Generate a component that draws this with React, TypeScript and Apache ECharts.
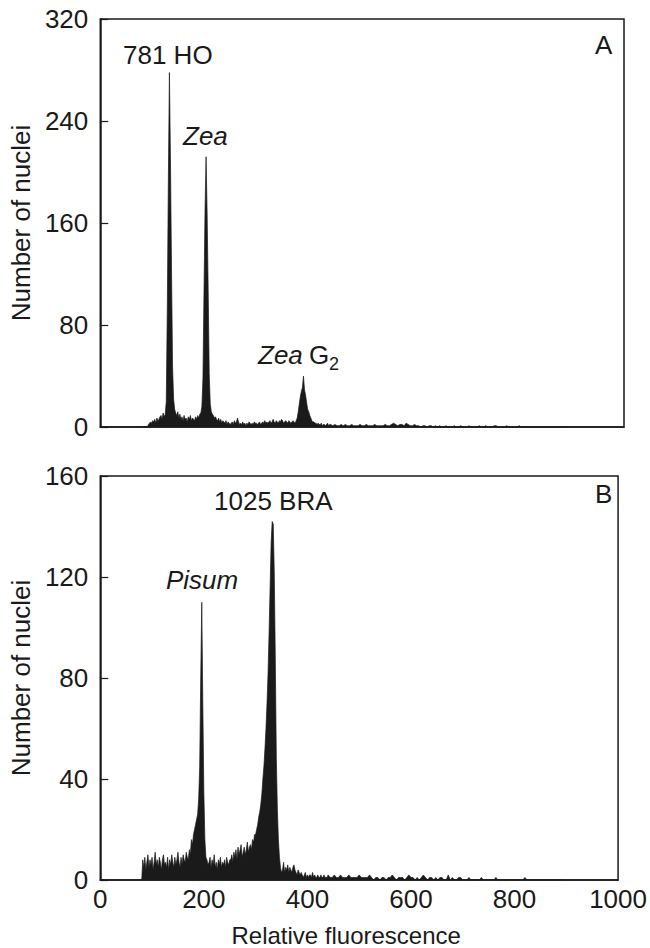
import React, { useEffect, useRef } from "react";
import * as echarts from "echarts";

// Histogram bins: main region at 2-unit resolution, tail at 4-unit resolution
const MAIN_START = 80;
const MAIN_STEP = 2;
const TAIL_START = 440;
const TAIL_STEP = 4;

// Panel A (781 HO + Zea)
const countsA_main = [
  0, 0, 0, 0, 0, 0,
  2, 3, 4, 3, 5, 4, 6, 3, 7, 5, 6, 8, 9, 6, 11, 8, 10,
  20, 95, 195, 278, 210, 125, 48, 22, 14, 11, 9,
  12, 7, 10, 6, 8, 5, 9, 6, 7, 4, 8, 6, 9, 5, 7, 6, 5, 8, 6, 9, 7, 10,
  11, 16, 38, 105, 170, 212, 168, 108, 42, 18, 12, 10,
  9, 7, 8, 6, 5, 7, 4, 6, 3, 5, 4, 3, 5, 2, 4, 3, 2, 3, 4, 2, 5, 3, 4,
  7, 4, 2,
  3, 2, 4, 2, 3, 1, 3, 2, 4, 3, 2, 3, 2, 4, 3, 3, 2,
  3, 4, 2, 3, 4, 3, 5, 3, 4, 3, 4, 5, 3, 4, 6, 4, 3, 5, 4, 3,
  5, 4, 6, 5, 3, 4, 5, 4, 3, 5, 4, 3, 4, 5, 4, 3,
  5, 7, 12, 18, 24, 28, 31, 40, 29, 25, 19, 14, 12, 9, 7, 5, 4, 4, 3,
  3, 2, 3, 2, 2, 3, 1, 2, 2, 1, 2, 3, 1, 2,
];
const countsA_tail = [
  2, 1, 2, 1, 1, 2, 1, 2, 1, 1, 2, 1, 1, 1, 2, 1, 1, 2, 1, 1, 1, 2, 1, 1, 1,
  1, 2, 1, 1, 2, 3, 2, 1, 2, 2, 1, 3, 2, 1, 1, 2, 1, 1, 0, 1, 1, 0, 1, 1, 0, 1,
  0, 1, 0, 0, 1, 0, 0, 0, 1, 0, 0, 1, 0, 0, 0, 1, 0, 0, 0, 0, 1, 0, 0, 1, 0, 0,
  0, 1, 1, 0, 0, 0, 0, 1, 0, 0, 0, 0, 0, 1, 0, 0, 0, 0, 0, 0, 0, 0, 0, 0, 0, 0,
  0, 0, 0, 0, 0, 0, 0, 0, 0, 0, 0,
];

// Panel B (Pisum + 1025 BRA)
const countsB_main = [
  0,
  8, 5, 9, 4, 7, 10, 5, 8, 6, 9, 4, 7, 11, 6, 8, 5, 9, 7, 4, 8, 10, 6, 7, 5, 9,
  4, 8, 6, 10, 7, 5, 9, 6, 8, 11, 7, 5, 9, 6, 10, 8, 7, 11, 9, 8, 12, 10,
  16, 14, 18, 20, 22, 24, 26, 32, 45, 80, 110, 70, 35, 16, 9, 8, 6,
  7, 9, 5, 8, 6, 10, 5, 7, 4, 8, 6, 9, 5, 7, 6, 8, 5, 9, 7, 6, 8,
  8, 10, 7, 11, 9, 12, 8, 13, 10, 12, 14, 9, 11, 13, 10, 12, 15, 11, 13, 14, 12, 16, 15, 18,
  18, 20, 22, 25, 27, 30, 34, 40, 45, 52, 60, 70, 82, 98, 116, 134, 142, 141, 122, 88, 48, 28, 16, 9, 5, 3,
  4, 7, 3, 5, 4, 6, 3, 5, 4, 3, 5, 6, 4, 3, 2, 4, 3, 2, 3, 2, 1, 2, 3, 1, 2, 1,
  2, 2, 1, 3, 1, 2, 1, 1, 2, 1, 1, 2, 1, 1, 2, 1, 1, 1,
];
const countsB_tail = [
  2, 1, 1, 2, 1, 1, 2, 1, 1, 1, 2, 1, 1, 1, 1, 2, 1, 1, 1, 1, 2, 1, 0, 1, 1,
  0, 1, 1, 0, 1, 1, 2, 1, 0, 1, 1, 1, 0, 1, 2, 1, 1, 0, 1, 0, 1, 2, 1, 0, 1, 1,
  0, 1, 0, 1, 1, 0, 0, 2, 0, 1, 0, 0, 1, 1, 0, 0, 0, 1, 0, 0, 0, 0, 0, 1, 0, 0,
  0, 0, 0, 0, 1, 0, 0, 0, 0, 0, 0, 0, 0, 0, 0, 0, 0, 0, 1, 0, 0, 0, 0, 0, 0, 0,
  0, 0, 0, 0, 0, 0, 0, 0, 0, 0, 0,
];

const xTicks = [0, 200, 400, 600, 800, 1000];
const yTicksA = [0, 80, 160, 240, 320];
const yTicksB = [0, 40, 80, 120, 160];

const FONT = "'Liberation Sans', Arial, Helvetica, sans-serif";
const INK = "#1a1a1a";
const TICK_FS = 26;
const NOTE_FS = 26;

function toPairs(start: number, step: number, counts: number[]) {
  return counts.map((c, i) => [start + i * step, c]);
}

export default function App() {
  const ref = useRef<HTMLDivElement>(null);
  useEffect(() => {
    if (!ref.current) return;
    const chart = echarts.init(ref.current, undefined, { renderer: "svg" });
    const dataA = [
      ...toPairs(MAIN_START, MAIN_STEP, countsA_main),
      ...toPairs(TAIL_START, TAIL_STEP, countsA_tail),
    ];
    const dataB = [
      ...toPairs(MAIN_START, MAIN_STEP, countsB_main),
      ...toPairs(TAIL_START, TAIL_STEP, countsB_tail),
    ];
    const xBase = (show: boolean, gridIndex: number) => ({
      type: "value",
      gridIndex,
      min: xTicks[0],
      max: xTicks[xTicks.length - 1],
      interval: xTicks[1] - xTicks[0],
      axisLine: { show: true, lineStyle: { color: INK, width: 1.5 } },
      axisTick: { show: false },
      splitLine: { show: false },
      axisLabel: {
        show,
        color: INK,
        fontFamily: FONT,
        fontSize: TICK_FS,
        margin: 6,
        formatter: (v: number) => String(v),
      },
      name: show ? "Relative fluorescence" : "",
      nameLocation: "middle",
      nameGap: 43,
      nameTextStyle: { color: INK, fontFamily: FONT, fontSize: 24, padding: [0, 26, 0, 0] },
    });
    const yBase = (ticks: number[], gridIndex: number) => ({
      type: "value",
      gridIndex,
      min: ticks[0],
      max: ticks[ticks.length - 1],
      interval: ticks[1] - ticks[0],
      axisLine: { show: true, lineStyle: { color: INK, width: 1.5 } },
      axisTick: { show: true, inside: true, length: 8, lineStyle: { color: INK, width: 1.2 } },
      splitLine: { show: false },
      axisLabel: {
        color: INK,
        fontFamily: FONT,
        fontSize: TICK_FS,
        margin: 12,
      },
      name: "Number of nuclei",
      nameLocation: "middle",
      nameGap: 63,
      nameTextStyle: { color: INK, fontFamily: FONT, fontSize: 26 },
    });
    const txt = (text: string, left: number, top: number, italic = false, size = NOTE_FS) => ({
      type: "text",
      left,
      top,
      style: {
        text,
        fill: INK,
        font: `${italic ? "italic " : ""}${size}px ${FONT}`,
      },
    });
    chart.setOption({
      animation: false,
      backgroundColor: "#ffffff",
      grid: [
        { left: 99, top: 19, width: 525, height: 408, show: true, borderColor: INK, borderWidth: 1.5, backgroundColor: "transparent" },
        { left: 99, top: 476, width: 525, height: 406, show: true, borderColor: INK, borderWidth: 1.5, backgroundColor: "transparent" },
      ],
      xAxis: [xBase(false, 0), xBase(true, 1)],
      yAxis: [yBase(yTicksA, 0), yBase(yTicksB, 1)],
      series: [
        {
          type: "line",
          xAxisIndex: 0,
          yAxisIndex: 0,
          data: dataA,
          symbol: "none",
          lineStyle: { color: INK, width: 0.7 },
          areaStyle: { color: INK, opacity: 1 },
        },
        {
          type: "line",
          xAxisIndex: 1,
          yAxisIndex: 1,
          data: dataB,
          symbol: "none",
          lineStyle: { color: INK, width: 0.7 },
          areaStyle: { color: INK, opacity: 1 },
        },
      ],
      graphic: [
        txt("A", 595, 32),
        txt("781 HO", 123, 42),
        txt("Zea", 183, 123, true),
        txt("Zea", 258, 342, true),
        txt("G", 309, 342),
        txt("2", 329, 355, false, 18),
        txt("B", 595, 481),
        txt("1025 BRA", 214, 488),
        txt("Pisum", 166, 567, true),
      ],
    });
    return () => chart.dispose();
  }, []);
  return (
    <div
      ref={ref}
      style={{ position: "fixed", left: 0, top: 0, width: 650, height: 948, background: "#fff" }}
    />
  );
}
